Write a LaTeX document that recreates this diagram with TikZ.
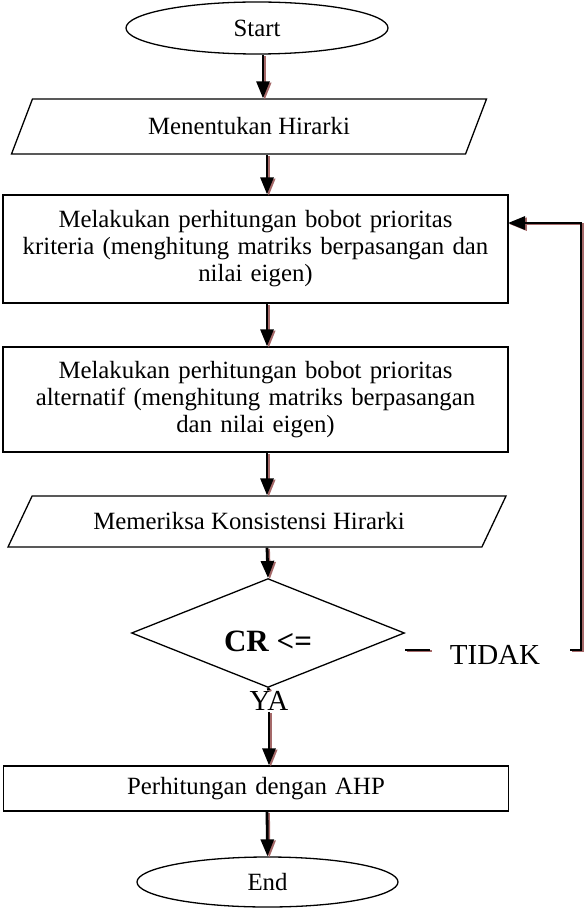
\documentclass[tikz,border=0pt]{standalone}
\usepackage{fontspec}
\setmainfont{Liberation Serif}
\usetikzlibrary{shapes.geometric, arrows.meta, positioning}
\definecolor{shadowred}{RGB}{165,105,105}
\tikzset{
  flowline/.style={line width=2.8pt,
    preaction={draw=shadowred, line width=2.2pt, transform canvas={xshift=1.8pt, yshift=-1.2pt}}},
  flowarrow/.style={flowline, -{Triangle[length=17pt,width=13pt]}},
  boxtext/.style={font=\fontsize{24.8}{27}\selectfont},
  bigtext/.style={font=\fontsize{29}{33}\selectfont},
  terminal/.style={draw, ellipse, line width=1.3pt, boxtext, inner sep=0pt},
  process/.style={draw, rectangle, line width=1.3pt, boxtext, minimum width=505pt, text width=490pt, align=center},
  inout/.style={draw, trapezium, trapezium left angle=49, trapezium right angle=131,
    trapezium stretches body, line width=1.3pt, boxtext},
  decision/.style={draw, diamond, line width=1.3pt, font=\fontsize{31}{35}\selectfont, inner sep=0pt}
}

\begin{document}
\begin{tikzpicture}[x=1pt, y=-1pt]
  \useasboundingbox (0,0) rectangle (584,909);
  \coordinate (topaxis) at (263,0);
  \coordinate (axis) at (267,0);
  \node[terminal, minimum width=262pt, minimum height=52pt] (start) at (257,28) {Start};
  \node[inout, minimum width=475pt, minimum height=55pt] (hirarki) at (249,126.5) {Menentukan Hirarki};
  \node[process, minimum height=108pt] (kriteria) at (255.5,249) {Melakukan perhitungan bobot prioritas\\ kriteria (menghitung matriks berpasangan dan\\ nilai eigen)};
  \node[process, minimum height=105pt] (alternatif) at (255.5,399.5) {Melakukan perhitungan bobot prioritas\\ alternatif (menghitung matriks berpasangan\\ dan nilai eigen)};
  \node[inout, minimum width=498pt, minimum height=51pt, trapezium left angle=45, trapezium right angle=135] (konsistensi) at (257,521.5) {Memeriksa Konsistensi Hirarki\hspace*{16pt}};
  \node[decision, minimum width=273pt, minimum height=90pt] (cr) at (268,633) {\raisebox{-8pt}[21pt][0pt]{\textbf{CR <=}}};
  \node[bigtext] (tidak) at (495,655) {TIDAK};
  \node[bigtext, inner sep=1pt] (ya) at (269,701) {YA};
  \node[process, minimum height=45pt] (ahp) at (256,788.5) {Perhitungan dengan AHP};
  \node[terminal, minimum width=261pt, minimum height=50pt] (end) at (267.5,882) {End};
  %
  \draw[flowarrow] (start.south -| topaxis) -- (hirarki.north -| topaxis);
  \draw[flowarrow] (hirarki.south -| axis) -- (kriteria.north -| axis);
  \draw[flowarrow] (kriteria.south -| axis) -- (alternatif.north -| axis);
  \draw[flowarrow] (alternatif.south -| axis) -- (konsistensi.north -| axis);
  \draw[flowarrow] (konsistensi.south -| axis) -- (cr.north);
  \draw[flowline] (cr.south) -- (ya.north);
  \draw[flowarrow] (ya.south) -- (ya.south |- ahp.north);
  \draw[flowarrow] (ahp.south -| axis) -- (end.north);
  %
  \coordinate (tidakL) at (430,650);
  \coordinate (tidakR) at (570,650);
  \coordinate (loopin) at (508,223);
  \draw[flowline] (tidakL -| cr.east) -- (tidakL);
  \draw[flowarrow] (tidakR) -- ++(11,0) |- (loopin);
\end{tikzpicture}
\end{document}
